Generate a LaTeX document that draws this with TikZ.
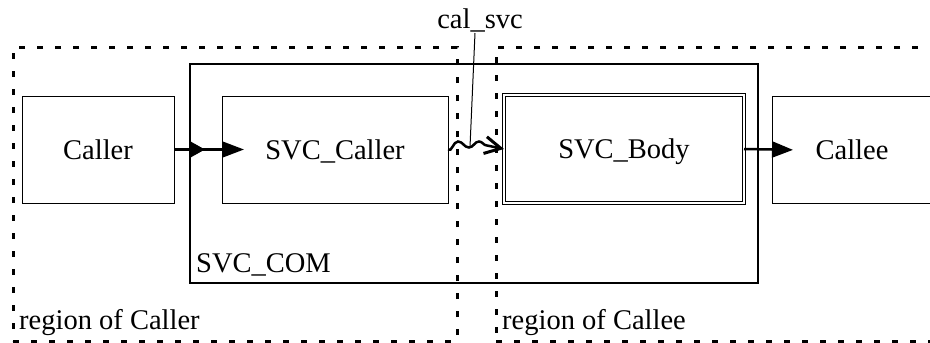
\documentclass[tikz,border=0pt]{standalone}
\usepackage{fontspec}
\setmainfont{Liberation Serif}
\usetikzlibrary{arrows.meta}
\begin{document}
\begin{tikzpicture}[x=1pt,y=-1pt,
  box/.style={draw, line width=1pt, rectangle, inner sep=0pt, outer sep=0pt, anchor=north west, text height=19pt, text depth=0pt, font=\fontsize{28.5}{34}\selectfont},
  lbl/.style={font=\fontsize{28.5}{34}\selectfont, inner sep=0pt},
  regionbox/.style={draw, rectangle, line width=3pt, dash pattern=on 6pt off 12pt, inner sep=0pt, outer sep=0pt, anchor=north west},
  conn/.style={line width=2.5pt},
  wave/.style={line width=2.5pt, -{Straight Barb[length=16pt,width=17pt,line width=3pt]}},
]
\useasboundingbox (0,0) rectangle (930,343);
\clip (0,0) rectangle (930,343);
% regions
\node[regionbox, minimum width=444pt, minimum height=294pt] (rcaller) at (13,47) {};
\node[regionbox, minimum width=460pt, minimum height=294pt] (rcallee) at (496,47) {};
\node[lbl, anchor=base west] (rcallerlbl) at (19,329) {region of Caller};
\node[lbl, anchor=base west] (rcalleelbl) at (502,329) {region of Callee};
% component
\node[box, line width=2pt, minimum width=568pt, minimum height=219pt] (com) at (190,64) {};
\node[lbl, anchor=base west] (comlbl) at (196,272) {SVC\_COM};
% boxes
\node[box, minimum width=152pt, minimum height=107pt] (caller) at (22,96) {Caller};
\node[box, minimum width=226pt, minimum height=107pt] (svccaller) at (222,96) {SVC\_Caller};
\node[box, double, double distance=2.5pt, line width=1pt, minimum width=240pt, minimum height=108pt] (svcbody) at (504,95) {SVC\_Body};
\node[box, minimum width=160pt, minimum height=107pt] (callee) at (772,96) {Callee};
% connectors
\coordinate (p1) at (com.west |- caller.east);
\draw[conn, -{Triangle[length=15pt,width=16pt]}, shorten >=-15pt] (caller.east) -- (p1);
\draw[conn, -{Triangle[length=22pt,width=16pt]}, shorten >=-22pt] (p1) -- (svccaller.west);
\draw[conn, -{Triangle[length=21pt,width=16pt]}, shorten >=-21pt] (svcbody.east) -- (callee.west);
\draw[wave] (svccaller.east) to[out=-40,in=180] ++(10,-8) to[out=0,in=180] ++(11,6) to[out=0,in=180] ++(10,-6) to[out=0,in=180] ++(8,4) -- (svcbody.west);
% call label
\node[lbl, anchor=base] (calsvc) at (480,28) {cal\_svc};
\coordinate (lt) at (475,33);
\coordinate (lb) at (470,147);
\draw[line width=1pt] (lt) -- (lb);
\end{tikzpicture}
\end{document}
